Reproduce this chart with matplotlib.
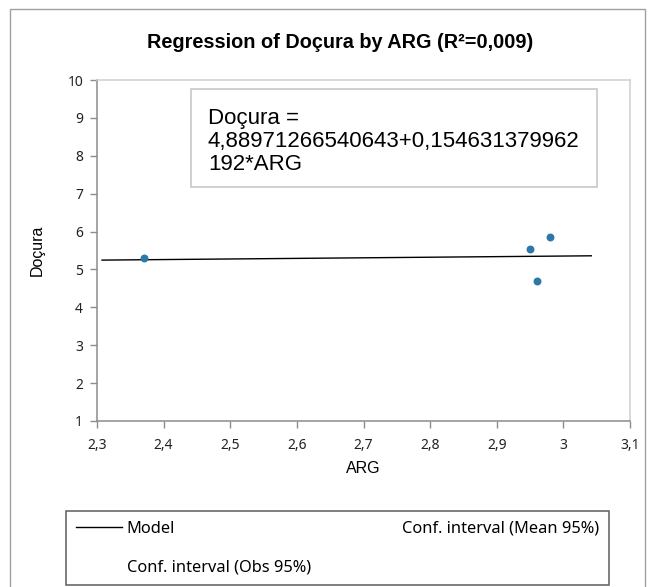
import matplotlib.pyplot as plt
from matplotlib.patches import Rectangle
from matplotlib.lines import Line2D
import numpy as np

# observations
arg = [2.37, 2.95, 2.96, 2.98]
docura = [5.31, 5.54, 4.69, 5.86]

# fitted model: Doçura = a + b*ARG
intercept = 4.88971266540643
slope = 0.154631379962192
model_x = [2.3075, 3.042]

x_ticks = [2.3, 2.4, 2.5, 2.6, 2.7, 2.8, 2.9, 3.0, 3.1]
x_labels = ['2,3', '2,4', '2,5', '2,6', '2,7', '2,8', '2,9', '3', '3,1']
y_ticks = [1, 2, 3, 4, 5, 6, 7, 8, 9, 10]

W, H = 654, 587
fig = plt.figure(figsize=(W / 100, H / 100), dpi=100)

def fx(px):
    return px / W

def fy(py):
    return 1 - py / H

# outer chart border
fig.patches.append(Rectangle((fx(10), fy(600)), fx(645) - fx(10), fy(9) - fy(600),
                             transform=fig.transFigure, fill=False, ec='#a0a0a0', lw=1))

ax = fig.add_axes([fx(97), fy(421), fx(630) - fx(97), fy(80) - fy(421)])

mx = np.array(model_x)
ax.plot(mx, intercept + slope * mx, color='black', lw=1, zorder=2)
ax.scatter(arg, docura, s=22, color='#2a79a6', zorder=3)

ax.set_xlim(2.3, 3.1)
ax.set_ylim(1, 10)
ax.set_xticks(x_ticks)
ax.set_xticklabels(x_labels, family='Noto Sans', fontsize=10)
ax.set_yticks(y_ticks)
ax.set_yticklabels([str(v) for v in y_ticks], family='Noto Sans', fontsize=10)
ax.tick_params(direction='out', length=5, width=1, color='#8c8c8c',
               labelcolor='#222222', pad=5)
ax.tick_params(axis='x', pad=7)
ax.spines['left'].set_color('#8c8c8c')
ax.spines['bottom'].set_color('#8c8c8c')
ax.spines['top'].set_color('#d0d0d0')
ax.spines['right'].set_color('#d0d0d0')
for s in ax.spines.values():
    s.set_linewidth(1.1)

ax.set_xlabel('ARG', fontsize=11.5, family='Liberation Sans', labelpad=6)
ax.set_ylabel('Doçura', fontsize=11.5, family='Liberation Sans', labelpad=16)

fig.text(fx(340), fy(43), 'Regression of Doçura by ARG (R²=0,009)', ha='center', va='center',
         fontsize=14.3, fontweight='bold', family='Liberation Sans')

# equation box
fig.patches.append(Rectangle((fx(191), fy(187)), fx(597) - fx(191), fy(89) - fy(187),
                             transform=fig.transFigure, fill=True, fc='white', ec='#c8c8c8', lw=1.2, zorder=5))
eq_lines = ['Doçura =', '4,88971266540643+0,154631379962', '192*ARG']
for i, line in enumerate(eq_lines):
    fig.text(fx(208), fy(124 + 23 * i), line, ha='left', va='baseline',
             fontsize=16, family='Liberation Sans', zorder=6)

# legend
handles = [Line2D([], [], color='black', lw=1),
           Line2D([], [], color='none'),
           Line2D([], [], color='none')]
labels = ['Model', 'Conf. interval (Obs 95%)', 'Conf. interval (Mean 95%)']
leg = fig.legend(handles, labels, ncol=2, mode='expand',
                 bbox_to_anchor=(fx(66), fy(585), fx(609) - fx(66), fy(511) - fy(585)),
                 loc='center', frameon=True, fancybox=False, edgecolor='#444444',
                 prop={'family': 'Noto Sans', 'size': 11.8}, handlelength=2.8,
                 handletextpad=0.3, borderpad=0.6, labelspacing=1.35, borderaxespad=0)
leg.get_frame().set_linewidth(1.2)

fig.savefig('out.png', dpi=100)
